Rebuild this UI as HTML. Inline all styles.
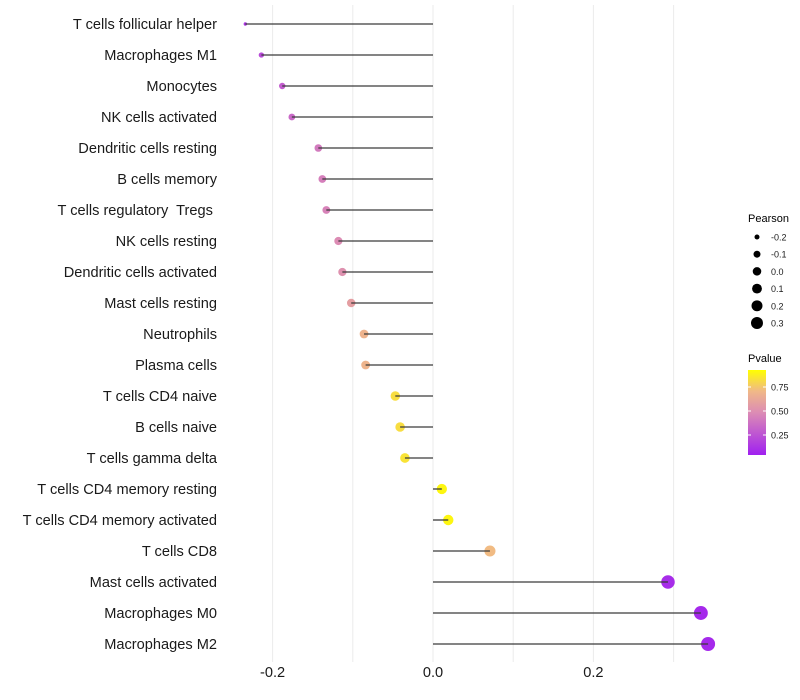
<!DOCTYPE html>
<html><head><meta charset="utf-8"><style>
body{margin:0;background:#fff;}
svg{display:block;font-family:"Liberation Sans",sans-serif;}
</style></head><body>
<svg id="chart" width="800" height="700">
<g id="grid"></g>
<g id="labels"></g>
<g id="points"></g>
<g id="segs"></g>
<g id="xticks"></g>
<g id="legend">
<text x="748" y="222" font-size="11">Pearson</text>
<g id="sizeLeg"></g>
<text x="748" y="362" font-size="11">Pvalue</text>
<defs><linearGradient id="pg" x1="0" y1="1" x2="0" y2="0">
<stop offset="0" stop-color="#A020F0"/><stop offset="0.5" stop-color="#DC8CB4"/><stop offset="0.75" stop-color="#F0B888"/><stop offset="1" stop-color="#FFFF00"/></linearGradient></defs>
<rect x="748" y="370" width="18" height="85" fill="url(#pg)"/>
<g id="colLeg"></g>
</g>
</svg>
<script>
const categories=["T cells follicular helper","Macrophages M1","Monocytes","NK cells activated","Dendritic cells resting","B cells memory","T cells regulatory  Tregs ","NK cells resting","Dendritic cells activated","Mast cells resting","Neutrophils","Plasma cells","T cells CD4 naive","B cells naive","T cells gamma delta","T cells CD4 memory resting","T cells CD4 memory activated","T cells CD8","Mast cells activated","Macrophages M0","Macrophages M2"];
const pearson=[-0.234,-0.214,-0.188,-0.176,-0.143,-0.138,-0.133,-0.118,-0.113,-0.102,-0.086,-0.084,-0.047,-0.041,-0.035,0.011,0.019,0.071,0.293,0.334,0.343];
const pvalues=[0.1,0.2,0.28,0.34,0.42,0.44,0.46,0.5,0.53,0.6,0.72,0.73,0.88,0.88,0.9,0.97,0.97,0.76,0.06,0.04,0.04];
const xTicks=[-0.2,0,0.2];
const xGrid=[-0.2,-0.1,0,0.1,0.2,0.3];
const sizeLegend=[-0.2,-0.1,0.0,0.1,0.2,0.3];
const colorLegend=[0.25,0.5,0.75];
const NS="http://www.w3.org/2000/svg";
const x=v=>433+v*802;
const y=i=>24+i*31;
const r=v=>1.7+5.3*Math.sqrt(Math.max(0,(v+0.234)/0.577));
const rl=v=>Math.sqrt(Math.max(1,18.15+59.5*v));
const py=p=>459-p*96;
function lerp(a,b,t){return a.map((c,i)=>Math.round(c+(b[i]-c)*t));}
function col(p){const st=[[0,[160,32,240]],[0.5,[220,140,180]],[0.75,[240,184,136]],[1,[255,255,0]]];
for(let k=1;k<st.length;k++){if(p<=st[k][0]){const t=(p-st[k-1][0])/(st[k][0]-st[k-1][0]);return 'rgb('+lerp(st[k-1][1],st[k][1],Math.max(0,t)).join(',')+')';}}return 'rgb(255,255,0)';}
function mk(tag,attrs,parent){const e=document.createElementNS(NS,tag);for(const k in attrs)e.setAttribute(k,attrs[k]);document.getElementById(parent).appendChild(e);return e;}
xGrid.forEach(v=>{const l=mk('line',{x1:x(v),x2:x(v),y1:5,y2:662,stroke:'#ebebeb','stroke-width':1},'grid');

});
categories.forEach((c,i)=>{
const t=mk('text',{x:217,y:y(i)+5,'text-anchor':'end','font-size':14.6,fill:'#1a1a1a'},'labels');t.textContent=c;t.style.whiteSpace='pre';


const p=mk('circle',{cx:x(pearson[i]),cy:y(i),r:r(pearson[i]),fill:col(pvalues[i])},'points');


const s=mk('line',{x1:x(0),x2:x(pearson[i]),y1:y(i),y2:y(i),stroke:'#3a3a3a','stroke-width':1.3},'segs');

});
xTicks.forEach(v=>{const t=mk('text',{x:x(v),y:677,'text-anchor':'middle','font-size':14.6,fill:'#1a1a1a'},'xticks');t.textContent=v===0?'0.0':v.toFixed(1);

});
sizeLegend.forEach((v,i)=>{const cy=237+i*17.2;
const c=mk('circle',{cx:757,cy:cy,r:rl(v),fill:'#000'},'sizeLeg');


const t=mk('text',{x:771,y:cy+3.5,'font-size':9,fill:'#1a1a1a'},'sizeLeg');t.textContent=v.toFixed(1);

});
colorLegend.forEach(v=>{const t=mk('text',{x:771,y:py(v)+3.5,'font-size':9,fill:'#1a1a1a'},'colLeg');t.textContent=v.toFixed(2);


mk('line',{x1:748,x2:751,y1:py(v),y2:py(v),stroke:'#fff'},'colLeg');
mk('line',{x1:763,x2:766,y1:py(v),y2:py(v),stroke:'#fff'},'colLeg');});
</script>
</body></html>
